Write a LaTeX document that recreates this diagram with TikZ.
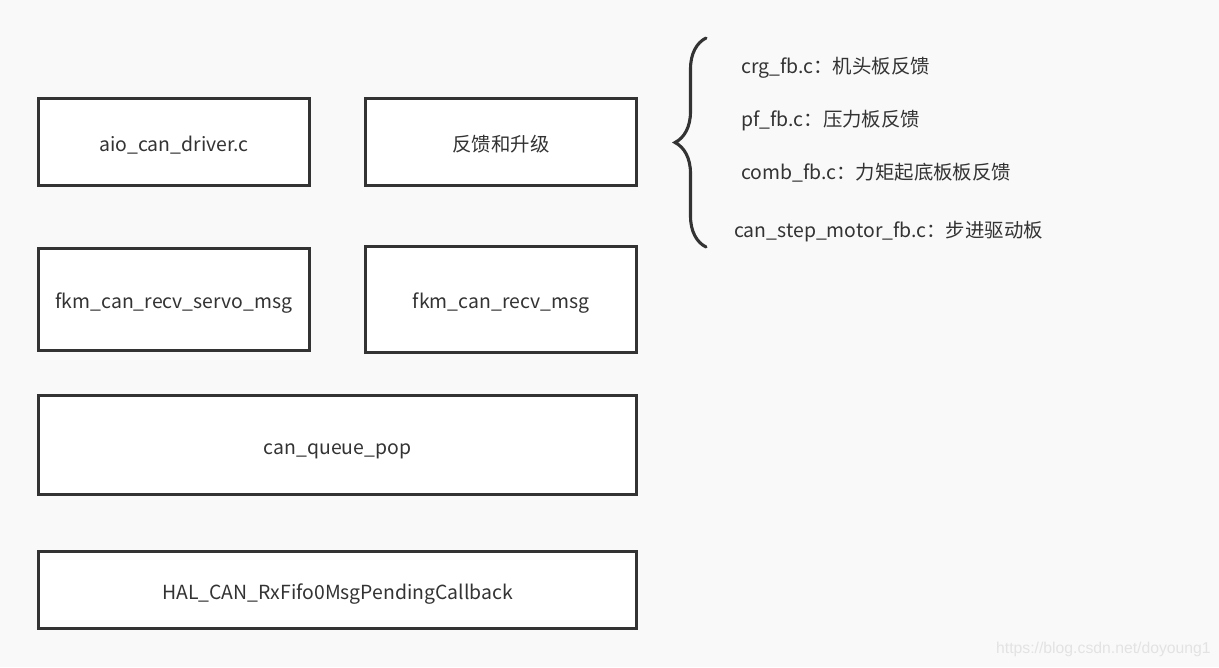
\documentclass[tikz,border=0pt]{standalone}
\usepackage{fontspec}
\setmainfont{Noto Sans CJK SC}
\newfontfamily\wmfont{Liberation Sans}
\usepackage{tikz}
\usetikzlibrary{decorations.pathreplacing}
\definecolor{bg}{HTML}{F9F9F9}
\definecolor{ink}{HTML}{333333}
\newcommand{\pxl}{0.025cm}

\begin{document}
\begin{tikzpicture}[x=0.025cm,y=-0.025cm,text=ink,
                    font=\fontsize{13.8pt}{16pt}\selectfont]
\tikzstyle{block}=[draw=ink,line width=2.2pt,fill=white,inner sep=0pt,
                   text height=1.55em,text depth=0.2em]
\tikzstyle{note}=[anchor=west,inner sep=0pt]
\fill[bg] (0,0) rectangle (1219,667);
\useasboundingbox (0,0) rectangle (1219,667);

        \node[block,minimum width=271*\pxl,minimum height=87*\pxl]  (drv)  at (174,142)    {aio\_can\_driver.c};
        \node[block,minimum width=271*\pxl,minimum height=87*\pxl]  (fb)   at (501,142)    {反馈和升级};
        \node[block,minimum width=271*\pxl,minimum height=102*\pxl] (servo) at (174,299.5) {fkm\_can\_recv\_servo\_msg};
        \node[block,minimum width=271*\pxl,minimum height=106*\pxl] (recv) at (501,299.5)  {fkm\_can\_recv\_msg};
        \node[block,minimum width=598*\pxl,minimum height=99*\pxl]  (pop)  at (337.5,445)  {can\_queue\_pop};
        \node[block,minimum width=598*\pxl,minimum height=77*\pxl]  (hal)  at (337.5,590)  {HAL\_CAN\_RxFifo0MsgPendingCallback};

        % feedback files
        \coordinate (bb) at (706,247);
        \coordinate (bt) at (706,38);
        \draw[ink,line width=2.2pt,line cap=round,decorate,
              decoration={brace,amplitude=31*\pxl,aspect=0.5}] (bb) -- (bt);

        \node[note] (crg)  at (741,68)  {crg\_fb.c：机头板反馈};
        \node[note] (pf)   at (741,121) {pf\_fb.c：压力板反馈};
        \node[note] (comb) at (741,173) {comb\_fb.c：力矩起底板板反馈};
        \node[note] (step) at (734,232) {can\_step\_motor\_fb.c：步进驱动板};

        \node[anchor=east,inner sep=0pt,text=black!11,font=\wmfont\fontsize{11.2pt}{13pt}\selectfont]
              (wm) at (1211,649) {https://blog.csdn.net/doyoung1};
\end{tikzpicture}
\end{document}
